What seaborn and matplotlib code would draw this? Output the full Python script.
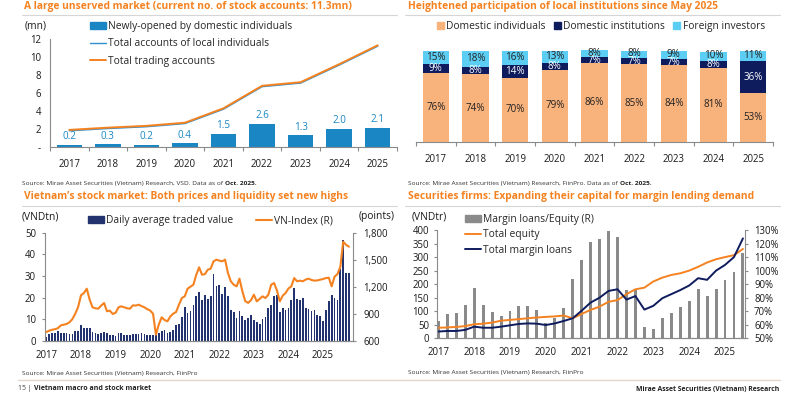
import numpy as np
import pandas as pd
import matplotlib
matplotlib.use("Agg")
import matplotlib.pyplot as plt
import matplotlib.ticker as mticker
from matplotlib.patches import Patch
from matplotlib.lines import Line2D
import seaborn as sns

sns.set_theme(style="white")
plt.rcParams["font.family"] = ["Open Sans", "Noto Sans", "DejaVu Sans"]
plt.rcParams["patch.force_edgecolor"] = False

# ---------------- data ----------------
years = ["2017", "2018", "2019", "2020", "2021", "2022", "2023", "2024", "2025"]
new_accounts = [0.2, 0.3, 0.2, 0.4, 1.5, 2.6, 1.3, 2.0, 2.1]
local_indiv_total = [1.8, 2.05, 2.25, 2.6, 4.2, 6.7, 7.1, 9.1, 11.2]
total_trading = [1.9, 2.15, 2.35, 2.7, 4.3, 6.8, 7.2, 9.2, 11.3]

dom_indiv = [76, 74, 70, 79, 86, 85, 84, 81, 53]
dom_inst = [9, 8, 14, 8, 7, 7, 7, 8, 36]
foreign = [15, 18, 16, 13, 8, 8, 9, 10, 11]

months = pd.date_range("2017-01-01", "2025-10-01", freq="MS")
traded_value = [
    1.9, 3.1, 3.4, 3.4, 4.3, 3.4, 3.4, 3.4, 3.1, 3.1, 4.3, 4.3,
    7.1, 5.9, 6.0, 5.9, 3.9, 3.5, 3.1, 3.5, 3.9, 3.5, 2.5, 2.8,
    2.1, 3.5, 3.5, 2.8, 2.8, 2.8, 2.9, 2.9, 2.9, 3.4, 3.1, 2.8,
    2.8, 2.5, 3.1, 3.4, 4.3, 4.9, 3.7, 4.2, 4.9, 7.1, 7.7, 11.1,
    15.4, 12.7, 13.7, 16.4, 20.5, 22.4, 19.0, 21.1, 19.3, 20.8, 31.0, 25.3,
    25.6, 21.8, 25.0, 20.5, 14.2, 13.1, 10.3, 13.7, 11.4, 9.6, 10.5, 12.0,
    9.6, 8.5, 7.7, 10.0, 10.8, 15.1, 16.7, 20.5, 21.3, 13.1, 15.0, 14.4,
    15.1, 19.0, 24.4, 19.3, 19.0, 19.8, 15.1, 14.7, 13.7, 14.2, 12.0, 11.6,
    9.3, 14.4, 18.2, 21.3, 19.9, 18.8, 33.0, 46.8, 31.3, 31.3,
]
vn_index = [
    697, 712, 722, 728, 740, 770, 778, 786, 805, 840, 900, 975,
    1105, 1130, 1178, 1056, 971, 960, 956, 990, 1019, 927, 934, 897,
    910, 970, 982, 971, 960, 956, 993, 990, 1000, 985, 971, 950,
    935, 900, 667, 780, 860, 830, 815, 870, 900, 919, 1000, 1074,
    1093, 1178, 1200, 1222, 1333, 1415, 1333, 1340, 1389, 1400, 1482, 1500,
    1490, 1482, 1500, 1352, 1260, 1222, 1204, 1289, 1150, 1040, 1020, 1050,
    1111, 1037, 1064, 1093, 1074, 1110, 1222, 1241, 1160, 1037, 1100, 1130,
    1180, 1204, 1296, 1260, 1267, 1260, 1280, 1289, 1275, 1267, 1270, 1278,
    1285, 1296, 1300, 1204, 1311, 1340, 1420, 1700, 1665, 1645,
]

quarters = pd.period_range("2017Q1", "2025Q3", freq="Q").astype(str)
margin_equity_ratio = [63, 67.7, 68.5, 74.6, 87.4, 74.6, 69.7, 66.5, 70.4, 74.1, 74.1, 70.9,
                       61.6, 64.8, 72.7, 93.6, 107.9, 120.9, 123.2, 129.6, 124.6, 85.7, 86.0,
                       58.1, 56.7, 65.3, 68.5, 72.9, 77.8, 86.2, 81.3, 86.5, 93.1, 98.8, 113.3]
total_equity = [39, 40, 42, 45, 52, 54, 58, 65, 68, 71, 74, 77, 79, 81, 84, 74, 90, 105,
                117, 135, 141, 163, 181, 187, 210, 224, 234, 240, 250, 264, 280, 292,
                300, 307, 330]
total_margin = [25, 27, 27, 31, 43, 39, 39, 43, 48, 53, 55, 54, 49, 55, 64, 74, 102, 132,
                150, 175, 181, 143, 156, 106, 120, 148, 163, 178, 195, 222, 216, 250,
                271, 300, 369]

# ---------------- style ----------------
ORANGE = "#F58220"
BLUE = "#1A87C4"
LBLUE = "#2E8FD0"
NAVY = "#0E1C5E"
BARNAVY = "#22336F"
PEACH = "#F8B27C"
CYAN = "#5CCDF3"
GRAY = "#8A8A8A"
SPINE = "#8A8A8A"
TXT = "#1A1A1A"
FS = 6.9      # tick labels
LFS = 7.4     # legends / unit labels
VFS = 7.1     # value labels
TFS = 7.4     # titles
SFS = 4.65    # source lines

W, H = 810, 397
fig = plt.figure(figsize=(W / 100, H / 100), dpi=100)


def rect(x0, y0, x1, y1):
    return [x0 / W, 1 - y1 / H, (x1 - x0) / W, (y1 - y0) / H]


def fx(x):
    return x / W


def fy(y):
    return 1 - y / H


bg = fig.add_axes([0, 0, 1, 1])
bg.set_xlim(0, W)
bg.set_ylim(H, 0)
bg.axis("off")


def style_axes(ax, left=True, right=False):
    for s in ["top", "right", "left", "bottom"]:
        ax.spines[s].set_visible(False)
    ax.spines["bottom"].set_visible(True)
    ax.spines["bottom"].set_color(SPINE)
    ax.spines["bottom"].set_linewidth(0.8)
    if left:
        ax.spines["left"].set_visible(True)
        ax.spines["left"].set_color(SPINE)
        ax.spines["left"].set_linewidth(0.8)
    if right:
        ax.spines["right"].set_visible(True)
        ax.spines["right"].set_color(SPINE)
        ax.spines["right"].set_linewidth(0.8)
    ax.grid(False)
    ax.set_xlabel("")
    ax.set_ylabel("")
    ax.tick_params(labelsize=FS, colors=TXT)


# ---------------- titles / frame ----------------
titles = [
    (24, 6, "A large unserved market (current no. of stock accounts: 11.3mn)", 22, 397, 15),
    (408, 6, "Heightened participation of local institutions since May 2025", 405, 780, 15),
    (24, 196, "Vietnam\u2019s stock market: Both prices and liquidity set new highs", 22, 397, 206),
    (408, 196, "Securities firms: Expanding their capital for margin lending demand", 405, 780, 206),
]
for x, y, t, lx0, lx1, ly in titles:
    bg.text(x, y, t, color=ORANGE, fontsize=TFS, fontweight="bold", ha="left", va="center")
    bg.plot([lx0, lx1], [ly, ly], color="#D6D6D6", lw=0.8)

bg.plot([18, 780], [380, 380], color="#E3D5CA", lw=1.0)
pairs = []  # (regular text artist, bold continuation, size)
t_f = bg.text(18, 390.5, "15 | ", fontsize=5.0, color="#444444", ha="left", va="baseline")
pairs.append((t_f, "Vietnam macro and stock market", 5.0))
bg.text(779, 390.5, "Mirae Asset Securities (Vietnam) Research", fontsize=4.95,
        fontweight="bold", color="#222222", ha="right", va="baseline")


def source(x, y, normal, bold=None):
    t = bg.text(x, y + 1.7, normal, fontsize=SFS, color="#333333", ha="left", va="baseline")
    if bold:
        pairs.append((t, bold, SFS))


source(22, 183, "Source: Mirae Asset Securities (Vietnam) Research, VSD. Data as of ", "Oct. 2025.")
source(408, 183, "Source: Mirae Asset Securities (Vietnam) Research, FiinPro. Data as of ", "Oct. 2025.")
source(22, 373, "Source: Mirae Asset Securities (Vietnam) Research, FiinPro")
source(408, 372, "Source: Mirae Asset Securities (Vietnam) Research, FiinPro")

NOEDGE = dict(linewidth=0, edgecolor="none")

# ---------------- panel 1 ----------------
ax1 = fig.add_axes(rect(50, 39, 397, 147))
idx = np.arange(len(years))
sns.barplot(x=years, y=new_accounts, color=BLUE, width=0.66, saturation=1, ax=ax1, **NOEDGE)
ax1.bar_label(ax1.containers[0], labels=[f"{v:.1f}" for v in new_accounts],
              padding=2, color=BLUE, fontsize=VFS)
sns.lineplot(x=idx, y=local_indiv_total, color=LBLUE, lw=1.0, ax=ax1)
sns.lineplot(x=idx, y=total_trading, color=ORANGE, lw=1.4, ax=ax1)
ax1.set_ylim(0, 12)
ax1.set_xlim(-0.5, 8.5)
style_axes(ax1)
ax1.set_yticks(np.arange(0, 13, 2))
ax1.set_yticklabels(["-"] + [str(v) for v in range(2, 13, 2)])
ax1.tick_params(axis="y", length=2.5, width=0.8, color=SPINE, pad=4)
ax1.set_xticks(idx)
ax1.set_xticklabels(years)
ax1.tick_params(axis="x", length=0, pad=8.5)
ax1.set_xticks(np.arange(-0.5, 9, 1), minor=True)
ax1.tick_params(axis="x", which="minor", length=3, width=0.8, color=SPINE, bottom=True)
bg.text(25, 26, "(mn)", fontsize=LFS, color=TXT, ha="left", va="center")
fig.legend(
    [Patch(color=BLUE), Line2D([], [], color=LBLUE, lw=1.0), Line2D([], [], color=ORANGE, lw=1.4)],
    ["Newly-opened by domestic individuals", "Total accounts of local individuals", "Total trading accounts"],
    loc="upper left", bbox_to_anchor=(fx(90), fy(21.0)), frameon=False, fontsize=LFS,
    handlelength=1.6, handleheight=0.7, handletextpad=0.15, labelspacing=0.62,
    borderpad=0, borderaxespad=0,
)

# ---------------- panel 2 ----------------
ax2 = fig.add_axes(rect(416, 40, 773, 141.7))
top_all = [a + b + c for a, b, c in zip(dom_indiv, dom_inst, foreign)]
top_mid = [a + b for a, b in zip(dom_indiv, dom_inst)]
sns.barplot(x=years, y=top_all, color=CYAN, width=0.66, saturation=1, ax=ax2, **NOEDGE)
sns.barplot(x=years, y=top_mid, color=NAVY, width=0.66, saturation=1, ax=ax2, **NOEDGE)
sns.barplot(x=years, y=dom_indiv, color=PEACH, width=0.66, saturation=1, ax=ax2, **NOEDGE)
ax2.set_ylim(0, 100 * (141.7 - 40) / 91)
ax2.set_xlim(-0.5, 8.5)
style_axes(ax2, left=False)
ax2.set_yticks([])
ax2.set_xticks(idx)
ax2.set_xticklabels(years)
ax2.tick_params(axis="x", length=0, pad=8.5)
ax2.set_xticks(np.arange(-0.5, 9, 1), minor=True)
ax2.tick_params(axis="x", which="minor", length=3, width=0.8, color=SPINE, bottom=True)
for i in idx:
    a, b, c = dom_indiv[i], dom_inst[i], foreign[i]
    ax2.text(i, a / 2, f"{a}%", ha="center", va="center", fontsize=VFS, color="#222222")
    ax2.text(i, a + b / 2, f"{b}%", ha="center", va="center", fontsize=VFS, color="white")
    ax2.text(i, a + b + c / 2 + 0.4, f"{c}%", ha="center", va="center", fontsize=VFS, color="#222222")
fig.legend(
    [Patch(color=PEACH), Patch(color=NAVY), Patch(color=CYAN)],
    ["Domestic individuals", "Domestic institutions", "Foreign investors"],
    loc="center", bbox_to_anchor=(fx(601), fy(26.5)), ncol=3, frameon=False, fontsize=LFS,
    handlelength=0.65, handleheight=0.65, handletextpad=0.25, columnspacing=0.8,
    borderpad=0, borderaxespad=0,
)

# ---------------- panel 3 ----------------
ax3 = fig.add_axes(rect(45, 232.7, 352.7, 340.7))
midx = np.arange(len(months))
sns.barplot(x=midx, y=traded_value, native_scale=True, color=BARNAVY, width=0.6,
            saturation=1, errorbar=None, ax=ax3, **NOEDGE)
ax3r = ax3.twinx()
sns.lineplot(x=midx, y=vn_index, color=ORANGE, lw=1.5, ax=ax3r)
ax3.set_xlim(-0.5, 106.3)
ax3.set_ylim(0, 50)
ax3r.set_ylim(600, 1800)
style_axes(ax3)
style_axes(ax3r, left=False, right=True)
ax3.set_yticks(np.arange(0, 51, 10))
ax3.tick_params(axis="y", length=2.5, width=0.8, color=SPINE, pad=4)
ax3r.set_yticks(np.arange(600, 1801, 300))
ax3r.yaxis.set_major_formatter(mticker.FuncFormatter(lambda v, p: f"{v:,.0f}"))
ax3r.tick_params(axis="y", length=2.5, width=0.8, color=SPINE, pad=5)
year_pos = [months.get_loc(pd.Timestamp(f"{y}-01-01")) for y in years]
ax3.set_xticks(year_pos)
ax3.set_xticklabels(years)
ax3.tick_params(axis="x", length=2.5, width=0.8, color=SPINE, pad=4.5)
bg.text(22, 216.7, "(VNDtn)", fontsize=LFS, color=TXT, ha="left", va="center")
bg.text(395, 216.7, "(points)", fontsize=LFS, color=TXT, ha="right", va="center")
fig.legend(
    [Patch(color=BARNAVY), Line2D([], [], color=ORANGE, lw=1.5)],
    ["Daily average traded value", "VN-Index (R)"],
    loc="center left", bbox_to_anchor=(fx(88), fy(220.7)), ncol=2, frameon=False, fontsize=LFS,
    handlelength=1.6, handleheight=0.7, handletextpad=0.15, columnspacing=2.2,
    borderpad=0, borderaxespad=0,
)

# ---------------- panel 4 ----------------
ax4 = fig.add_axes(rect(436.7, 230, 745, 338.3))
ax4r = ax4.twinx()
qidx = np.arange(len(quarters))
sns.barplot(x=qidx, y=margin_equity_ratio, native_scale=True, color=GRAY, width=0.33,
            saturation=1, errorbar=None, ax=ax4r, **NOEDGE)
sns.lineplot(x=qidx, y=total_equity, color=ORANGE, lw=1.4, ax=ax4)
sns.lineplot(x=qidx, y=total_margin, color=NAVY, lw=1.4, ax=ax4)
ax4.set_zorder(ax4r.get_zorder() + 1)
ax4.patch.set_visible(False)
ax4.set_xlim(-0.18, 34.23)
ax4r.set_xlim(-0.18, 34.23)
ax4.set_ylim(0, 400)
ax4r.set_ylim(50, 130)
style_axes(ax4)
style_axes(ax4r, left=False, right=True)
ax4.set_yticks(np.arange(0, 401, 50))
ax4.tick_params(axis="y", length=2.5, width=0.8, color=SPINE, pad=3)
ax4r.set_yticks(np.arange(50, 131, 10))
ax4r.yaxis.set_major_formatter(mticker.FuncFormatter(lambda v, p: f"{v:.0f}%"))
ax4r.tick_params(axis="y", length=2.5, width=0.8, color=SPINE, pad=4)
qyear_pos = [list(quarters).index(f"{y}Q1") for y in years]
ax4.set_xticks(qyear_pos)
ax4.set_xticklabels(years)
ax4.tick_params(axis="x", length=2.5, width=0.8, color=SPINE, pad=4)
ax4r.tick_params(axis="x", length=0)
bg.text(412, 216.7, "(VNDtr)", fontsize=LFS, color=TXT, ha="left", va="center")
fig.legend(
    [Patch(color=GRAY), Line2D([], [], color=ORANGE, lw=1.4), Line2D([], [], color=NAVY, lw=1.4)],
    ["Margin loans/Equity (R)", "Total equity", "Total margin loans"],
    loc="upper left", bbox_to_anchor=(fx(465), fy(214.0)), frameon=False, fontsize=LFS,
    handlelength=1.6, handleheight=0.7, handletextpad=0.15, labelspacing=0.42,
    borderpad=0, borderaxespad=0,
)

# bold continuations placed right after their regular text (same baseline)
renderer = fig.canvas.get_renderer()
for t, bold, fs in pairs:
    bb = t.get_window_extent(renderer)
    x_px = bb.x1
    y_data = t.get_position()[1]
    bg.text(x_px, y_data, bold, fontsize=fs, fontweight="bold", color="#222222",
            ha="left", va="baseline")

fig.savefig("out.png", dpi=100)
